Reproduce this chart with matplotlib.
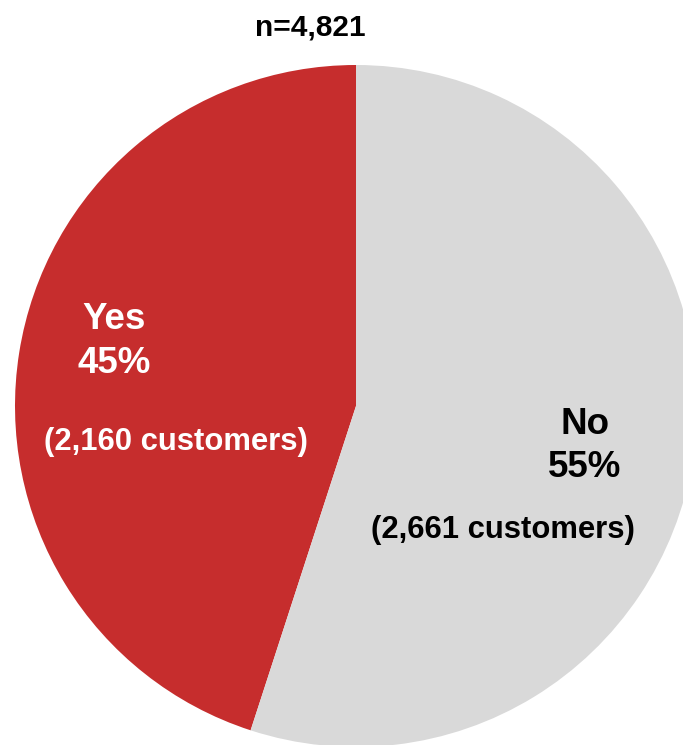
import matplotlib
matplotlib.use('Agg')
import matplotlib.pyplot as plt

plt.rcParams['font.family'] = ['Liberation Sans', 'DejaVu Sans']

labels = ['Yes', 'No']
percents = [45, 55]
counts = [2160, 2661]
colors = ['#C62D2D', '#D9D9D9']
text_colors = ['white', 'black']
total = sum(counts)

W, H = 683, 745
fig = plt.figure(figsize=(W / 100, H / 100), dpi=100)
ax = fig.add_axes([0, 0, 1, 1])

# pie placed in pixel coordinates (y measured from bottom)
cx, cy, r = 356, H - 406, 341
ax.pie(percents, colors=colors, startangle=90, counterclock=True,
       center=(cx, cy), radius=r, frame=False,
       wedgeprops=dict(linewidth=0))
ax.set_xlim(0, W)
ax.set_ylim(0, H)
ax.set_aspect('equal')
ax.axis('off')

# label anchor positions (pixel x, baselines from top)
pos = {'Yes': (114, 329, 373, 176, 450),
       'No': (585, 434, 477, 503, 538)}
for lab, p, n, tc in zip(labels, percents, counts, text_colors):
    x1, yb1, yb2, x3, yb3 = pos[lab]
    ax.text(x1, H - yb1, lab, ha='center', va='baseline', fontsize=26.5,
            fontweight='bold', color=tc)
    ax.text(x1, H - yb2, f'{p}%', ha='center', va='baseline', fontsize=26.5,
            fontweight='bold', color=tc)
    ax.text(x3, H - yb3, f'({n:,} customers)', ha='center', va='baseline',
            fontsize=22.3, fontweight='bold', color=tc)

ax.text(310, H - 35, f'n={total:,}', ha='center', va='baseline', fontsize=21.5,
        fontweight='bold', color='black')

fig.savefig('out.png', dpi=100)
